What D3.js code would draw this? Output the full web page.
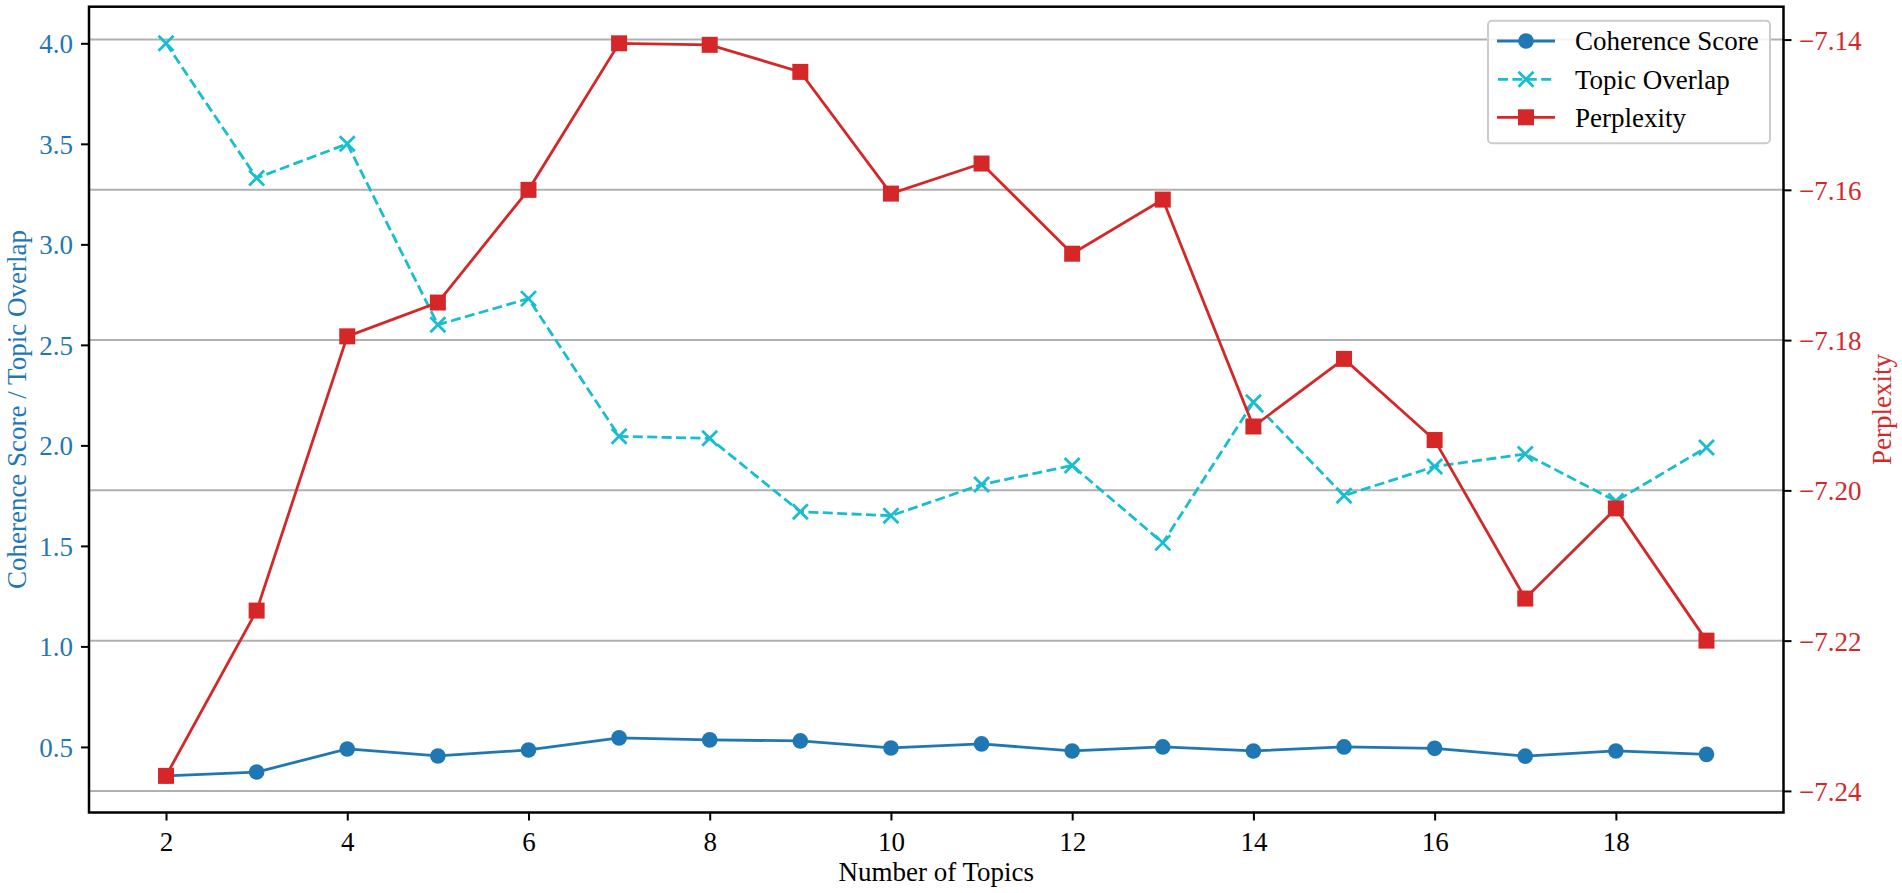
<!DOCTYPE html>
<html>
<head>
<meta charset="utf-8">
<script src="https://cdn.jsdelivr.net/npm/d3@7"></script>
<style>
  html, body { margin: 0; padding: 0; background: #fff; }
  svg { display: block; }
  text { font-family: "Liberation Serif", "Times New Roman", serif; }
</style>
</head>
<body>
<svg id="chart" width="1902" height="893"></svg>
<script>
// ---- data ----
const topics = [2, 3, 4, 5, 6, 7, 8, 9, 10, 11, 12, 13, 14, 15, 16, 17, 18, 19];
const coherence = [0.356, 0.375, 0.490, 0.455, 0.485, 0.545, 0.535, 0.530, 0.495, 0.515, 0.480, 0.500, 0.480, 0.500, 0.493, 0.454, 0.480, 0.463];
const overlap = [4.000, 3.330, 3.500, 2.600, 2.730, 2.045, 2.035, 1.670, 1.650, 1.805, 1.900, 1.515, 2.215, 1.750, 1.895, 1.957, 1.723, 1.990];
const perplexity = [-7.2380, -7.2160, -7.1795, -7.1750, -7.1600, -7.1405, -7.1407, -7.1443, -7.1605, -7.1565, -7.1685, -7.1613, -7.1915, -7.1825, -7.1933, -7.2144, -7.2024, -7.2200];
const xTicks = [2, 4, 6, 8, 10, 12, 14, 16, 18];
const leftTicks = [0.5, 1.0, 1.5, 2.0, 2.5, 3.0, 3.5, 4.0];
const rightTicks = [-7.24, -7.22, -7.20, -7.18, -7.16, -7.14];
const seriesNames = ["Coherence Score", "Topic Overlap", "Perplexity"];

const C_BLUE = "#1f77b4", C_CYAN = "#17becf", C_RED = "#d62728";

// ---- layout ----
const L = 89, R = 1783.5, T = 6.7, B = 812.5;
const FS = 27;
const svg = d3.select("#chart");

function pad(lo, hi) { const s = hi - lo; return [lo - 0.05 * s, hi + 0.05 * s]; }

const x = d3.scaleLinear().domain(pad(d3.min(topics), d3.max(topics))).range([L, R]);
const yL = d3.scaleLinear()
  .domain(pad(d3.min(coherence.concat(overlap)), d3.max(coherence.concat(overlap))))
  .range([B, T]);
const yR = d3.scaleLinear().domain(pad(d3.min(perplexity), d3.max(perplexity))).range([B, T]);

// grid (from right axis)
svg.append("g").selectAll("line").data(rightTicks).join("line")
  .attr("x1", L).attr("x2", R)
  .attr("y1", d => yR(d)).attr("y2", d => yR(d))
  .attr("stroke", "#b0b0b0").attr("stroke-width", 2);

// axes
const fmt1 = d3.format(".1f"), fmt2 = d3.format(".2f");
const gx = svg.append("g").attr("transform", `translate(0,${B})`)
  .call(d3.axisBottom(x).tickValues(xTicks).tickSize(8).tickPadding(11).tickFormat(d3.format("d")));
const gl = svg.append("g").attr("transform", `translate(${L},0)`)
  .call(d3.axisLeft(yL).tickValues(leftTicks).tickSize(8).tickPadding(8).tickFormat(fmt1));
const gr = svg.append("g").attr("transform", `translate(${R},0)`)
  .call(d3.axisRight(yR).tickValues(rightTicks).tickSize(8).tickPadding(7.5).tickFormat(fmt2));

[gx, gl, gr].forEach(g => {
  g.select(".domain").remove();
  g.selectAll(".tick line").attr("stroke", "#000").attr("stroke-width", 2);
  g.selectAll(".tick text").attr("font-size", FS).attr("font-family", '"Liberation Serif", serif');
});
gx.selectAll(".tick text").attr("fill", "#000");
gl.selectAll(".tick text").attr("fill", C_BLUE).attr("dy", "0.35em");
gr.selectAll(".tick text").attr("fill", C_RED).attr("dy", "0.35em");

// frame
svg.append("rect").attr("x", L).attr("y", T).attr("width", R - L).attr("height", B - T)
  .attr("fill", "none").attr("stroke", "#000").attr("stroke-width", 2.5);

// titles
svg.append("text").attr("x", (L + R) / 2).attr("y", 881).attr("text-anchor", "middle")
  .attr("font-size", FS).attr("fill", "#000").text("Number of Topics");
svg.append("text").attr("transform", `translate(26,${(T + B) / 2}) rotate(-90)`)
  .attr("text-anchor", "middle").attr("font-size", FS).attr("fill", C_BLUE)
  .text("Coherence Score / Topic Overlap");
svg.append("text").attr("transform", `translate(1891,${(T + B) / 2}) rotate(-90)`)
  .attr("text-anchor", "middle").attr("font-size", FS).attr("fill", C_RED)
  .text("Perplexity");

// series
const lineL = d3.line().x((d, i) => x(topics[i])).y(d => yL(d));
const lineR = d3.line().x((d, i) => x(topics[i])).y(d => yR(d));

const plot = svg.append("g");

// Topic overlap (dashed, x markers)
plot.append("path").datum(overlap).attr("d", lineL).attr("fill", "none")
  .attr("stroke", C_CYAN).attr("stroke-width", 2.8).attr("stroke-dasharray", "10,4.4");
const xm = 7.5;
plot.append("g").selectAll("path").data(overlap).join("path")
  .attr("d", (d, i) => { const cx = x(topics[i]), cy = yL(d);
    return `M${cx - xm},${cy - xm}L${cx + xm},${cy + xm}M${cx - xm},${cy + xm}L${cx + xm},${cy - xm}`; })
  .attr("stroke", C_CYAN).attr("stroke-width", 2.8).attr("fill", "none");

// Coherence (solid, circles)
plot.append("path").datum(coherence).attr("d", lineL).attr("fill", "none")
  .attr("stroke", C_BLUE).attr("stroke-width", 2.8);
plot.append("g").selectAll("circle").data(coherence).join("circle")
  .attr("cx", (d, i) => x(topics[i])).attr("cy", d => yL(d)).attr("r", 7.8)
  .attr("fill", C_BLUE);

// Perplexity (solid, squares)
plot.append("path").datum(perplexity).attr("d", lineR).attr("fill", "none")
  .attr("stroke", C_RED).attr("stroke-width", 2.8);
const sq = 8;
plot.append("g").selectAll("rect").data(perplexity).join("rect")
  .attr("x", (d, i) => x(topics[i]) - sq).attr("y", d => yR(d) - sq)
  .attr("width", 2 * sq).attr("height", 2 * sq).attr("fill", C_RED);

// legend
const lg = svg.append("g");
lg.append("rect").attr("x", 1488).attr("y", 20.7).attr("width", 282).attr("height", 122.6)
  .attr("rx", 4).attr("fill", "#fff").attr("fill-opacity", 0.85)
  .attr("stroke", "#cccccc").attr("stroke-width", 2);
const rowsY = [41, 79.3, 117.3];
const hx1 = 1497, hx2 = 1555, hc = (hx1 + hx2) / 2;
// coherence
lg.append("line").attr("x1", hx1).attr("x2", hx2).attr("y1", rowsY[0]).attr("y2", rowsY[0])
  .attr("stroke", C_BLUE).attr("stroke-width", 2.8);
lg.append("circle").attr("cx", hc).attr("cy", rowsY[0]).attr("r", 7.8).attr("fill", C_BLUE);
// overlap
lg.append("line").attr("x1", hx1).attr("x2", hx2).attr("y1", rowsY[1]).attr("y2", rowsY[1])
  .attr("stroke", C_CYAN).attr("stroke-width", 2.8).attr("stroke-dasharray", "10,4.4")
  .attr("stroke-dashoffset", -1);
lg.append("path")
  .attr("d", `M${hc - xm},${rowsY[1] - xm}L${hc + xm},${rowsY[1] + xm}M${hc - xm},${rowsY[1] + xm}L${hc + xm},${rowsY[1] - xm}`)
  .attr("stroke", C_CYAN).attr("stroke-width", 2.8);
// perplexity
lg.append("line").attr("x1", hx1).attr("x2", hx2).attr("y1", rowsY[2]).attr("y2", rowsY[2])
  .attr("stroke", C_RED).attr("stroke-width", 2.8);
lg.append("rect").attr("x", hc - sq).attr("y", rowsY[2] - sq).attr("width", 2 * sq).attr("height", 2 * sq)
  .attr("fill", C_RED);
lg.selectAll("text.lbl").data(seriesNames).join("text").attr("class", "lbl")
  .attr("x", 1575).attr("y", (d, i) => rowsY[i]).attr("dy", "0.35em")
  .attr("font-size", FS).attr("fill", "#000").text(d => d);
</script>
</body>
</html>
